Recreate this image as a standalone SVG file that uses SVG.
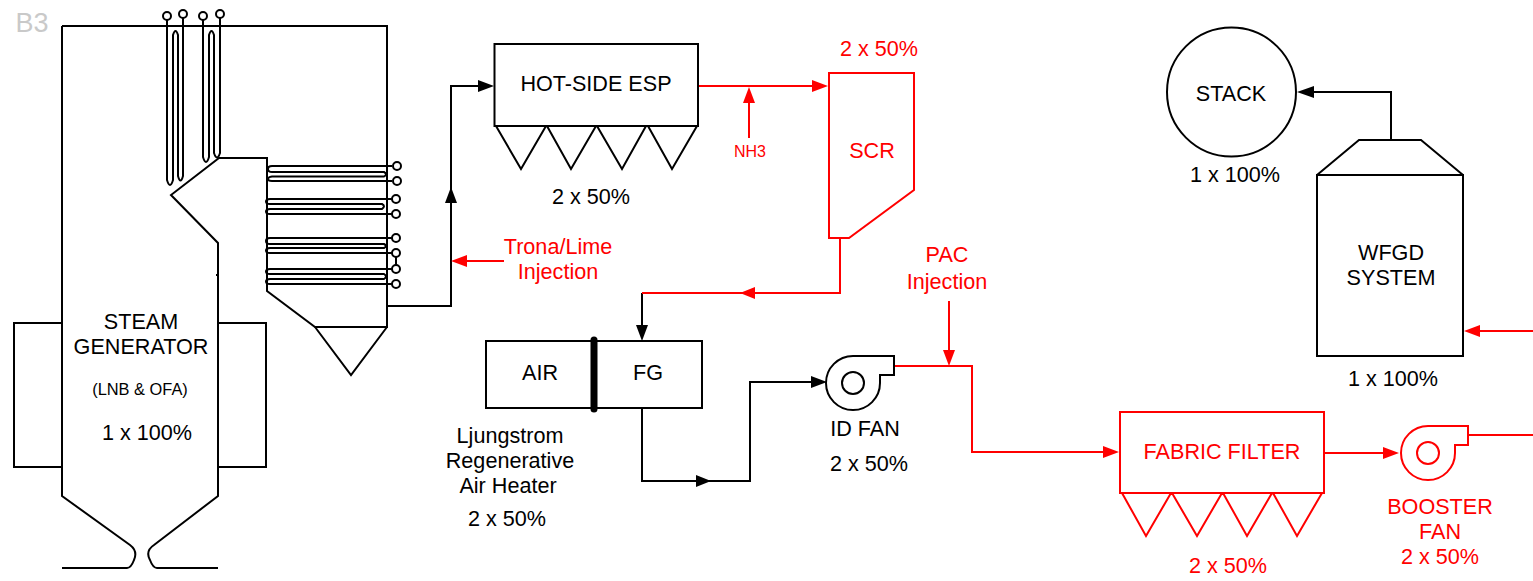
<svg xmlns="http://www.w3.org/2000/svg" width="1533" height="581" viewBox="0 0 1533 581">
<style>
.k{fill:none;stroke:#000;stroke-width:2}
.r{fill:none;stroke:#f00;stroke-width:2}
.kw{fill:#fff;stroke:#000;stroke-width:2}
.rh{fill:#f00}
.kh{fill:#000}
text{font-family:"Liberation Sans",Arial,sans-serif;font-size:21.6px;text-anchor:middle;fill:#000}
.rt{fill:#f00}
</style>
<rect width="1533" height="581" fill="#fff"/>
<text x="32" y="32" style="font-size:27px;fill:#c9c9c9">B3</text>
<g id="steam-generator">
<path class="k" d="M62,323H14V467H62M218,323H266V467H218"/>
<path class="k" d="M62,26H387V327H315L267,291V158H219L171,195L218,243V496L154,545Q145,551 150,560Q153,568 157,568H218M62,26V496L130,545Q138,551 134,560Q131,568 127,568H62M216,275H217"/>
<path class="k" d="M315,327L351,375L387,327"/>
<g class="k">
<path class="k" d="M167,20V180Q170,190 173,180V35Q175.500,27 178,35V176Q180.500,185 183,176V18"/>
<path class="k" d="M203,20V157Q206,167 209,157V35Q211.500,27 214,35V153Q217,162 220,153V18"/>
<path class="k" d="M392,166H272Q268,166 268,169Q268,172 272,172H384Q388,174 384,176.500H272Q268,177 268,179Q268,181 272,181H392"/>
<path class="k" d="M392,199H270Q266,199 266,201.500Q266,204 270,204H382Q386,206 382,209H270Q266,209 266,211.500Q266,214 270,214H392"/>
<path class="k" d="M392,238H270Q266,238 266,241Q266,244 270,244H384Q388,246 384,248H270Q266,248 266,250.500Q266,253 270,253H392"/>
<path class="k" d="M392,269H270Q266,269 266,271.500Q266,274 270,274H384Q388,276.500 384,279H270Q266,279 266,281.500Q266,284 270,284H392"/>
<path class="k" d="M396,257V265"/>
</g>
<g class="kw">
<circle cx="167" cy="16" r="4"/><circle cx="183" cy="14" r="4"/><circle cx="203" cy="16" r="4"/><circle cx="220" cy="14" r="4"/>
<circle cx="397" cy="166" r="4"/><circle cx="397" cy="181" r="4"/><circle cx="396" cy="199" r="4"/><circle cx="396" cy="214" r="4"/>
<circle cx="396" cy="238" r="4"/><circle cx="396" cy="253" r="4"/><circle cx="396" cy="269" r="4"/><circle cx="396" cy="284" r="4"/>
</g>
<text x="141" y="329">STEAM</text>
<text x="141" y="354">GENERATOR</text>
<text x="140" y="395" style="font-size:16.4px">(LNB &amp; OFA)</text>
<text x="147" y="440">1 x 100%</text>
</g>
<g id="connectors">
<path class="k" d="M387,306H451V86H478M642,293V326M642,408V481H698M698,481H750V382H811M1391,140V92H1313"/>
<path class="r" d="M698,86H813M749,138V103M840,238V293H642M504,261H465M949,301V351M895,366H972V452H1104M1324,453H1384M1468,435H1533M1533,331H1480"/>
<path class="kh" d="M494,86L478,80V92ZM451,187L445,203H457ZM642,341L636,325H648ZM711,481L696,475V487ZM827,382L811,376V388ZM1297,92L1314,86V98Z"/>
<path class="rh" d="M828,86L812,80V92ZM749,87L743,103H755ZM740,293L755,287V299ZM451,261L467,255V267ZM949,366L943,350H955ZM1119,452L1103,446V458ZM1399,453L1383,447V459ZM1464,331L1480,325V337Z"/>
</g>
<g id="hot-side-esp">
<rect class="k" x="494.500" y="44" width="203.500" height="82"/>
<path class="k" d="M496,126L521,169L546,126L547,126L571,169L596,126L597,126L622,169L646,126L648,126L672,169L697,126"/>
<text x="596" y="91">HOT-SIDE ESP</text>
<text x="591" y="204">2 x 50%</text>
</g>
<g id="scr">
<path class="r" d="M829,73H914V190L849,238H829Z"/>
<text class="rt" x="872" y="158">SCR</text>
<text class="rt" x="879" y="56">2 x 50%</text>
</g>
<g id="labels-injection">
<text class="rt" x="558" y="254">Trona/Lime</text>
<text class="rt" x="558" y="279">Injection</text>
<text class="rt" x="750" y="157" style="font-size:16px">NH3</text>
<text class="rt" x="947" y="262">PAC</text>
<text class="rt" x="947" y="289">Injection</text>
</g>
<g id="air-heater">
<rect class="k" x="486" y="341" width="216" height="67"/>
<path d="M594,340V409" style="stroke:#000;stroke-width:7;stroke-linecap:round;fill:none"/>
<text x="540" y="380">AIR</text>
<text x="648" y="380">FG</text>
<text x="510" y="443">Ljungstrom</text>
<text x="510" y="468">Regenerative</text>
<text x="508" y="493">Air Heater</text>
<text x="507" y="526">2 x 50%</text>
</g>
<g id="id-fan">
<path class="k" d="M894,356H853A27,27 0 1 0 880,383V375H894Z"/>
<circle class="k" cx="853" cy="383" r="11"/>
<text x="865" y="436">ID FAN</text>
<text x="869" y="471">2 x 50%</text>
</g>
<g id="fabric-filter">
<rect class="r" x="1120" y="412" width="204" height="81"/>
<path class="r" d="M1122,493L1146,536L1171,493L1172,493L1197,536L1222,493L1223,493L1247,536L1272,493L1273,493L1297,536L1322,493"/>
<text class="rt" x="1222" y="459">FABRIC FILTER</text>
<text class="rt" x="1228" y="573">2 x 50%</text>
</g>
<g id="booster-fan">
<path class="r" d="M1468,426H1428A27,27 0 1 0 1455,453V445H1468Z"/>
<circle class="r" cx="1428" cy="453" r="11"/>
<text class="rt" x="1440" y="514">BOOSTER</text>
<text class="rt" x="1440" y="539">FAN</text>
<text class="rt" x="1440" y="564">2 x 50%</text>
</g>
<g id="wfgd">
<path class="k" d="M1317,175L1359,140H1421L1463,175"/>
<rect class="k" x="1317" y="175" width="146" height="181"/>
<text x="1391" y="260">WFGD</text>
<text x="1391" y="285">SYSTEM</text>
<text x="1393" y="386">1 x 100%</text>
</g>
<g id="stack">
<circle class="k" cx="1231.500" cy="92" r="64.500"/>
<text x="1231" y="101">STACK</text>
<text x="1235" y="182">1 x 100%</text>
</g>
</svg>
